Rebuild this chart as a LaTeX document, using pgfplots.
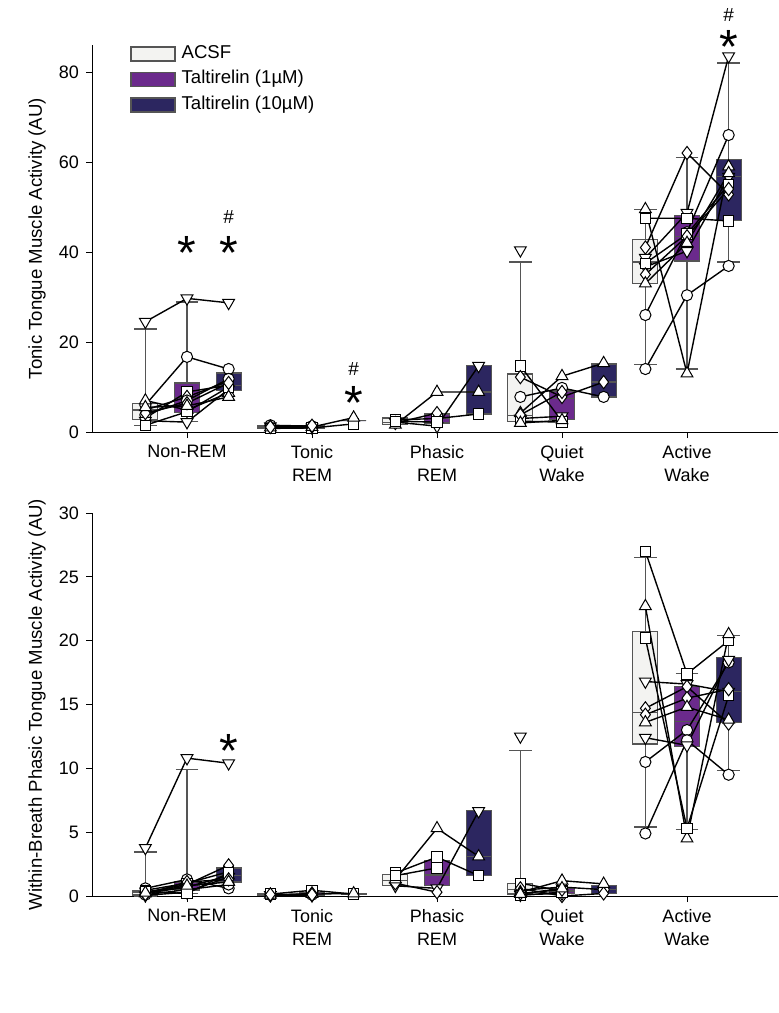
\documentclass[border=0pt]{standalone}
\usepackage{fontspec}
\setmainfont{Liberation Sans}
\usepackage{pgfplots}
\pgfplotsset{compat=1.18}
\usepgfplotslibrary{statistics}

\definecolor{acsf}{HTML}{F3F3F1}
\definecolor{tal1}{HTML}{6B2A8C}
\definecolor{tal10}{HTML}{2C2660}
\definecolor{boxgray}{HTML}{555555}

% one box: lower whisker, lower quartile, median, upper quartile, upper whisker, position, fill
\newcommand{\bx}[7]{\addplot[boxplot prepared={lower whisker=#1, lower quartile=#2,
  median=#3, upper quartile=#4, upper whisker=#5, draw position=#6},
  draw=boxgray, fill=#7, line width=0.6pt] coordinates {};}

\tikzset{
  sig/.style={font=\fontsize{24}{24}\selectfont, anchor=base, inner sep=0pt, text height=15pt},
  hash/.style={font=\fontsize{9.5}{11}\selectfont, anchor=base, inner sep=0pt, text depth=0pt},
}

\pgfplotsset{
  panel/.style={
    scale only axis, width=343pt,
    xmin=0.24, xmax=5.728,
    axis lines*=left,
    axis line style={black, line width=0.5pt},
    tick align=outside, major tick length=3pt,
    tick style={black, line width=0.5pt},
    xtick={1,2,3,4,5},
    xticklabels={Non-REM, Tonic\\REM, Phasic\\REM, Quiet\\Wake, Active\\Wake},
    xticklabel style={align=center, font=\fontsize{9}{11.5}\selectfont},
    yticklabel style={font=\fontsize{9}{11}\selectfont},
    ylabel style={font=\fontsize{9.3}{11}\selectfont, at={(axis description cs:-0.0802,0.5)}, anchor=center},
    /pgf/number format/assume math mode=true,
    clip=false,
    unbounded coords=jump,
    boxplot/draw direction=y,
    boxplot/box extend=0.2,
    boxplot/whisker extend=0.18,
  },
  subj/.style={black, line width=0.7pt},
  mo/.style={subj, mark=*, mark size=2.8pt, mark options={fill=white, draw=black, line width=0.5pt}},
  mv/.style={subj, mark=triangle*, mark size=3.4pt, mark options={fill=white, draw=black, line width=0.5pt, rotate=180}},
  ms/.style={subj, mark=square*, mark size=2.6pt, mark options={fill=white, draw=black, line width=0.5pt}},
  md/.style={subj, mark=diamond*, mark size=3.3pt, mark options={fill=white, draw=black, line width=0.5pt}},
  mu/.style={subj, mark=triangle*, mark size=3.4pt, mark options={fill=white, draw=black, line width=0.5pt}},
  legbox/.style={legend image code/.code={\draw[##1, line width=0.6pt] (0pt,-3.5pt) rectangle (22pt,3.5pt);}},
}

\begin{document}
\begin{tikzpicture}
\useasboundingbox (0,0) rectangle (389pt,-506.5pt);

% ---------- top panel ----------
\begin{axis}[panel, at={(46pt,-216pt)}, anchor=south west, height=193.5pt,
  ymin=0, ymax=86, ytick={0,20,40,60,80},
  ylabel={Tonic Tongue Muscle Activity (AU)},
  legbox,
  legend style={draw=none, fill=none, at={(axis description cs:0.0554,1)}, anchor=north west,
    font=\fontsize{9.3}{11}\selectfont, row sep=4.25pt, column sep=3pt, inner sep=0pt,
    nodes={inner sep=0pt, text height=6.5pt, text depth=2pt}},
  legend cell align=left]
\addlegendimage{draw=boxgray, fill=acsf}
\addlegendimage{draw=boxgray, fill=tal1}
\addlegendimage{draw=boxgray, fill=tal10}
\legend{ACSF, Taltirelin (1µM), Taltirelin (10µM)}

\bx{1.5}{2.7}{4.9}{6.4}{22.9}{0.667}{acsf}
\bx{2.4}{4.4}{7.6}{10.9}{28.9}{1}{tal1}
\bx{9.3}{9.3}{10.4}{13.1}{13.1}{1.333}{tal10}
\bx{0.8}{0.8}{1.1}{1.5}{1.5}{1.667}{acsf}
\bx{0.9}{0.9}{1.15}{1.4}{1.4}{2}{tal1}
\bx{2.5}{2.5}{2.5}{2.5}{2.5}{2.333}{tal10}
\bx{1.6}{1.6}{2.2}{3.1}{3.1}{2.667}{acsf}
\bx{2.0}{2.0}{3.0}{4.0}{4.0}{3}{tal1}
\bx{4.0}{4.0}{8.9}{14.7}{14.7}{3.333}{tal10}
\bx{2.4}{2.4}{3.6}{12.9}{37.8}{3.667}{acsf}
\bx{2.7}{2.7}{7.5}{9.1}{9.1}{4}{tal1}
\bx{7.8}{7.8}{11.1}{15.1}{15.1}{4.333}{tal10}
\bx{15}{33}{37.8}{42.7}{49.5}{4.667}{acsf}
\bx{14}{38}{43.5}{48.2}{61}{5}{tal1}
\bx{37.8}{47}{56.7}{60.6}{82}{5.333}{tal10}

\addplot[mo] coordinates {(0.667,6.0)(1,16.7)(1.333,14)(1.5,nan)(1.667,1.5)(2,1.3)(2.5,nan)(3.667,7.8)(4,9.8)(4.333,7.8)(4.5,nan)(4.667,26)(5,44.4)(5.333,66)};
\addplot[mv] coordinates {(0.667,24.5)(1,29.7)(1.333,28.7)(1.5,nan)(1.667,1.3)(2,1.0)(2.5,nan)(2.667,2.2)(3,1.3)(3.333,14.7)(3.5,nan)(3.667,40.4)(4.5,nan)(4.667,38.7)(5,48.7)(5.333,83.5)};
\addplot[ms] coordinates {(0.667,3.1)(1,8.9)(1.333,10.4)(1.5,nan)(1.667,0.8)(2,0.9)(2.333,1.8)(2.5,nan)(2.667,2.7)(3,3.0)(3.333,4.0)(3.5,nan)(3.667,14.7)(4,2.4)(4.5,nan)(4.667,47.5)(5,47.5)(5.333,46.9)};
\addplot[md] coordinates {(0.667,4.9)(1,7.8)(1.333,11.3)(1.5,nan)(1.667,1.2)(2,1.2)(2.5,nan)(2.667,2.0)(3,4.2)(3.5,nan)(3.667,12.2)(4,7.8)(4.333,11.1)(4.5,nan)(4.667,41)(5,62)(5.333,52.8)};
\addplot[mu] coordinates {(0.667,7.0)(1,4.9)(1.333,8.7)(1.5,nan)(1.667,1.0)(2,1.1)(2.333,3.2)(2.5,nan)(2.667,1.6)(3,8.9)(3.333,8.9)(3.5,nan)(3.667,4.2)(4,12.4)(4.333,15.3)(4.5,nan)(4.667,49.5)(5,13)(5.333,59)};
\addplot[mo] coordinates {(0.667,3.8)(1,7.0)(1.333,11.8)(1.5,nan)(4.667,14)(5,30.4)(5.333,36.9)};
\addplot[mv] coordinates {(0.667,2.5)(1,2.2)(1.333,9.5)(1.5,nan)(3.667,3.0)(4,3.5)(4.5,nan)(4.667,36.7)(5,40.2)(5.333,56.7)};
\addplot[ms] coordinates {(0.667,1.5)(1,4.5)(1.333,10.0)(1.5,nan)(2.667,2.4)(3,2.2)(3.5,nan)(3.667,2.4)(4,2.2)(4.5,nan)(4.667,37.5)(5,44)(5.333,55)};
\addplot[md] coordinates {(0.667,4.2)(1,6.4)(1.333,10.9)(1.5,nan)(1.667,1.1)(2,1.4)(2.5,nan)(3.667,3.8)(4,8.9)(4.5,nan)(4.667,35)(5,43.5)(5.333,54)};
\addplot[mu] coordinates {(0.667,5.5)(1,5.8)(1.333,7.8)(1.5,nan)(3.667,2.0)(4,2.6)(4.5,nan)(4.667,33)(5,42)(5.333,57.5)};

\node[sig] at (axis cs:1,36.2) {*};
\node[sig] at (axis cs:1.333,36.2) {*};
\node[hash] at (axis cs:1.333,46.3) {\#};
\node[sig] at (axis cs:2.333,2.7) {*};
\node[hash] at (axis cs:2.333,12.6) {\#};
\node[sig] at (axis cs:5.333,81.8) {*};
\node[hash] at (axis cs:5.333,91.2) {\#};
\end{axis}

% ---------- bottom panel ----------
\begin{axis}[panel, at={(46pt,-448pt)}, anchor=south west, height=191.5pt,
  ymin=0, ymax=30, ytick={0,5,10,15,20,25,30},
  ylabel={Within-Breath Phasic Tongue Muscle Activity (AU)}]

\bx{0.0}{0.08}{0.25}{0.4}{3.45}{0.667}{acsf}
\bx{0.2}{0.47}{0.8}{1.1}{9.9}{1}{tal1}
\bx{1.1}{1.1}{1.6}{2.2}{2.2}{1.333}{tal10}
\bx{0.05}{0.05}{0.1}{0.2}{0.2}{1.667}{acsf}
\bx{0.05}{0.05}{0.12}{0.25}{0.25}{2}{tal1}
\bx{0.1}{0.1}{0.15}{0.2}{0.2}{2.333}{tal10}
\bx{0.8}{0.8}{1.2}{1.7}{1.7}{2.667}{acsf}
\bx{0.8}{0.8}{1.65}{2.8}{2.8}{3}{tal1}
\bx{1.6}{1.6}{3.1}{6.7}{6.7}{3.333}{tal10}
\bx{0.15}{0.15}{0.5}{1.0}{11.4}{3.667}{acsf}
\bx{0.2}{0.2}{0.4}{0.6}{0.6}{4}{tal1}
\bx{0.2}{0.2}{0.5}{0.8}{0.8}{4.333}{tal10}
\bx{5.4}{11.9}{14.4}{20.75}{26.5}{4.667}{acsf}
\bx{5.2}{11.7}{13.7}{16.4}{17.4}{5}{tal1}
\bx{9.8}{13.6}{16.0}{18.7}{20.4}{5.333}{tal10}

\addplot[mo] coordinates {(0.667,0.6)(1,1.3)(1.333,0.6)(1.5,nan)(1.667,0.1)(2,0.1)(2.5,nan)(3.667,0.45)(4,0.7)(4.333,0.5)(4.5,nan)(4.667,10.5)(5,13.0)(5.333,18.3)};
\addplot[mv] coordinates {(0.667,3.76)(1,10.8)(1.333,10.4)(1.5,nan)(1.667,0.08)(2,0.05)(2.5,nan)(2.667,0.8)(3,0.6)(3.333,6.65)(3.5,nan)(3.667,12.5)(4.5,nan)(4.667,16.8)(5,16.6)(5.333,16.0)};
\addplot[ms] coordinates {(0.667,0.45)(1,1.0)(1.333,1.9)(1.5,nan)(1.667,0.15)(2,0.45)(2.333,0.15)(2.5,nan)(2.667,1.8)(3,3.05)(3.333,1.6)(3.5,nan)(3.667,1.0)(4,0.4)(4.5,nan)(4.667,27.0)(5,17.4)(5.333,20.0)};
\addplot[md] coordinates {(0.667,0.3)(1,0.9)(1.333,2.4)(1.5,nan)(1.667,0.05)(2,0.2)(2.5,nan)(2.667,1.0)(3,0.3)(3.5,nan)(3.667,0.6)(4,0.0)(4.333,0.2)(4.5,nan)(4.667,14.7)(5,16.4)(5.333,13.5)};
\addplot[mu] coordinates {(0.667,0.2)(1,0.7)(1.333,1.6)(1.5,nan)(1.667,0.1)(2,0.15)(2.333,0.2)(2.5,nan)(2.667,1.3)(3,5.3)(3.333,3.1)(3.5,nan)(3.667,0.3)(4,1.2)(4.333,0.95)(4.5,nan)(4.667,22.7)(5,4.5)(5.333,20.5)};
\addplot[mo] coordinates {(0.667,0.1)(1,0.5)(1.333,0.9)(1.5,nan)(4.667,4.9)(5,12.2)(5.333,9.5)};
\addplot[mv] coordinates {(0.667,0.05)(1,0.3)(1.333,1.5)(1.5,nan)(3.667,0.1)(4,0.2)(4.5,nan)(4.667,12.4)(5,11.8)(5.333,18.5)};
\addplot[ms] coordinates {(0.667,0.35)(1,0.2)(1.333,1.8)(1.5,nan)(2.667,1.6)(3,2.2)(3.5,nan)(3.667,0.05)(4,0.3)(4.5,nan)(4.667,20.2)(5,5.3)(5.333,15.7)};
\addplot[md] coordinates {(0.667,0.15)(1,1.1)(1.333,1.3)(1.5,nan)(1.667,0.12)(2,0.1)(2.5,nan)(3.667,0.2)(4,0.5)(4.5,nan)(4.667,14.2)(5,15.5)(5.333,16.2)};
\addplot[mu] coordinates {(0.667,0.25)(1,0.8)(1.333,1.1)(1.5,nan)(3.667,0.15)(4,0.6)(4.5,nan)(4.667,13.6)(5,14.8)(5.333,13.8)};

\node[sig] at (axis cs:1.333,10.1) {*};
\end{axis}
\end{tikzpicture}
\end{document}
